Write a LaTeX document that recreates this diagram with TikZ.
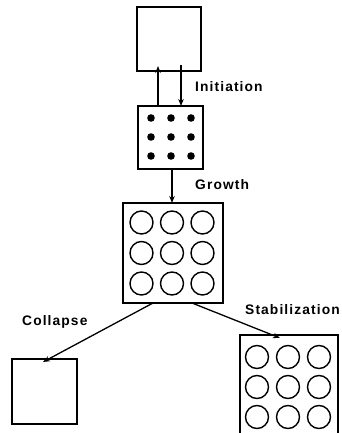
\documentclass[tikz,border=0pt]{standalone}
\usepackage{fontspec}
\setmainfont{Liberation Sans}
\usetikzlibrary{arrows.meta}
\begin{document}
\begin{tikzpicture}[x=1pt,y=-1pt,
  cell/.style={draw,line width=1.6pt,inner sep=0pt,outer sep=0pt},
  arr/.style={line width=1.3pt,-{Stealth[length=7pt,width=5.5pt]}},
  lab/.style={font=\fontsize{13.8}{16}\selectfont\bfseries\addfontfeatures{LetterSpace=8},inner sep=0pt},
  pore/.style={line width=1.4pt}]
\useasboundingbox (0,0) rectangle (341,433);
\clip (0,0) rectangle (341,433);

% boxes
\node[cell,minimum width=64pt,minimum height=64pt] (empty) at (169,39) {};
\node[cell,minimum width=65pt,minimum height=63pt] (nuclei) at (170.5,137.5) {};
\node[cell,minimum width=100pt,minimum height=100pt] (grown) at (173,253) {};
\node[cell,minimum width=65pt,minimum height=65pt] (collapsed) at (44.5,391.5) {};
\node[cell,minimum width=98pt,minimum height=102pt] (stable) at (289,386) {};

% nuclei
\foreach \i in {-1,0,1}
  \foreach \j in {-1,0,1}
    \fill ([shift={(\i*20+0.5,\j*19-0.5)}]nuclei.center) circle (3.8pt);

% grown pores
\foreach \i in {-1,0,1}
  \foreach \j in {-1,0,1}
    \draw[pore] ([shift={(\i*30.5-1,\j*30.5)}]grown.center) circle (11.5pt);

% stabilized pores
\foreach \i in {-1,0,1}
  \foreach \j in {-1,0,1}
    \draw[pore] ([shift={(\i*31-1,\j*30+1)}]stable.center) circle (11.5pt);

% transitions
\coordinate (upS) at ([xshift=-12.5pt]nuclei.north);
\coordinate (upE) at ([yshift=5pt]upS |- empty.south);
\draw[arr] (upS) -- (upE);
\coordinate (dnS) at ([xshift=12pt,yshift=6pt]empty.south);
\coordinate (dnE) at (dnS |- nuclei.north);
\draw[arr] (dnS) -- (dnE);
\draw[arr] ([xshift=1.5pt]nuclei.south) -- ([xshift=-1pt]grown.north);
\draw[arr] ([xshift=-20pt]grown.south) -- ([xshift=-1.5pt,yshift=-3pt]collapsed.north);
\draw[arr] ([xshift=19pt]grown.south) -- ([xshift=-9pt,yshift=-3pt]stable.north);

% labels
\node[lab,anchor=west] (tInit) at (195,87) {Initiation};
\node[lab,anchor=west] (tGrow) at (195,185) {Growth};
\node[lab,anchor=west] (tColl) at (22,322) {Collapse};
\node[lab,anchor=west] (tStab) at (245,310) {Stabilization};
\end{tikzpicture}
\end{document}
